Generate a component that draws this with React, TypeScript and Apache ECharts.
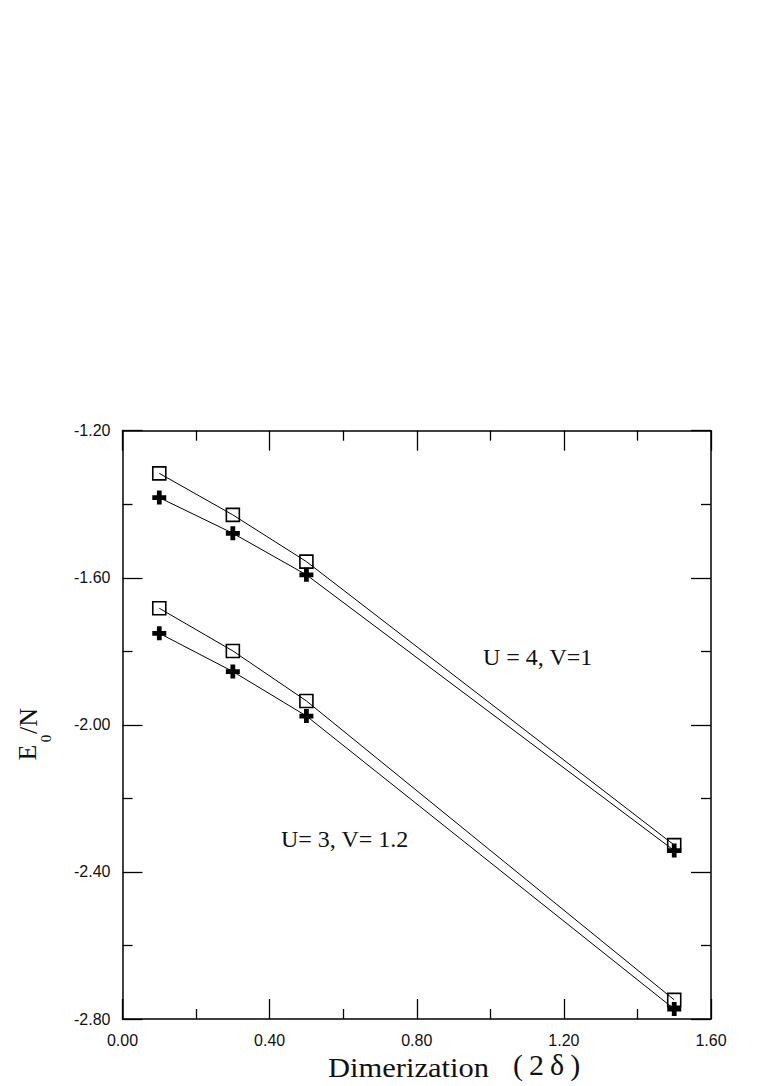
import React, { useEffect, useRef } from "react";
import * as echarts from "echarts";

const xValues = [0.1, 0.3, 0.5, 1.5];
const u4Squares = [-1.316, -1.429, -1.556, -2.327];
const u4Plus = [-1.382, -1.479, -1.592, -2.342];
const u3Squares = [-1.683, -1.799, -1.935, -2.748];
const u3Plus = [-1.751, -1.855, -1.976, -2.773];

const xTicks = { min: 0, max: 1.6, interval: 0.4 };
const yTicks = { min: -2.8, max: -1.2, interval: 0.4 };

const PLUS = "path://M3.3,0h3.4v3.3h3.3v3.4h-3.3v3.3h-3.4v-3.3h-3.3v-3.4h3.3z";

export default function App() {
  const ref = useRef<HTMLDivElement>(null);
  useEffect(() => {
    if (!ref.current) return;
    const chart = echarts.init(ref.current, null, { renderer: "svg" });
    const black = "#000";
    const tickLabel = {
      fontFamily: "Liberation Sans, Arial, sans-serif",
      fontSize: 16,
      color: "#111",
    };
    const axisCommon = (showLabel: boolean, margin: number) => ({
      type: "value" as const,
      axisLine: { show: true, onZero: false, lineStyle: { color: black, width: 1.5 } },
      axisTick: { show: true, inside: true, length: 20, lineStyle: { color: black, width: 1.3 } },
      minorTick: { show: true, splitNumber: 2, length: 10, lineStyle: { color: black, width: 1.3 } },
      splitLine: { show: false },
      minorSplitLine: { show: false },
      axisLabel: {
        show: showLabel,
        margin,
        formatter: (v: number) => v.toFixed(2),
        ...tickLabel,
      },
    });
    const lineSeries = (data: number[], symbol: string, plus: boolean) => ({
      type: "line" as const,
      data: xValues.map((x, i) => [x, data[i]]),
      symbol,
      symbolSize: plus ? 14 : 13,
      showSymbol: true,
      lineStyle: { color: black, width: 1 },
      itemStyle: plus
        ? { color: black, borderWidth: 0 }
        : { color: "rgba(0,0,0,0)", borderColor: black, borderWidth: 1.6 },
      z: plus ? 3 : 2,
      emphasis: { disabled: true },
    });
    const serif = "'Liberation Serif', 'Times New Roman', serif";
    const rotated = (text: string, x: number, y: number, size: number) => ({
      type: "text",
      x,
      y,
      rotation: Math.PI / 2,
      style: {
        text,
        font: `${size}px ${serif}`,
        fill: "#111",
        align: "center",
        verticalAlign: "middle",
        textAlign: "center",
        textVerticalAlign: "middle",
      },
    });
    chart.setOption({
      animation: false,
      backgroundColor: "#fff",
      grid: { left: 122.5, top: 430.7, right: 52, bottom: 67, containLabel: false },
      xAxis: [
        { ...axisCommon(true, 13), ...xTicks, position: "bottom" },
        { ...axisCommon(false, 8), ...xTicks, position: "top" },
      ],
      yAxis: [
        { ...axisCommon(true, 12), ...yTicks, position: "left" },
        { ...axisCommon(false, 8), ...yTicks, position: "right" },
      ],
      series: [
        lineSeries(u4Squares, "rect", false),
        lineSeries(u4Plus, PLUS, true),
        lineSeries(u3Squares, "rect", false),
        lineSeries(u3Plus, PLUS, true),
      ],
      graphic: [
        {
          type: "text",
          left: 483,
          top: 645,
          style: { text: "U = 4, V=1", font: `24px ${serif}`, fill: "#111" },
        },
        {
          type: "text",
          left: 281,
          top: 827,
          style: { text: "U= 3, V= 1.2", font: `24px ${serif}`, fill: "#111" },
        },
        {
          type: "text",
          x: 328,
          y: 1067,
          scaleX: 1.09,
          style: {
            text: "Dimerization",
            font: `28px ${serif}`,
            fill: "#111",
            align: "left",
            verticalAlign: "middle",
            textAlign: "left",
            textVerticalAlign: "middle",
          },
        },
        {
          type: "text",
          x: 513,
          y: 1064,
          style: {
            text: "(\u20092\u2009δ\u2009)",
            font: `30px ${serif}`,
            fill: "#111",
            align: "left",
            verticalAlign: "middle",
            textAlign: "left",
            textVerticalAlign: "middle",
          },
        },
        rotated("E", 27.5, 752.5, 26),
        rotated("0", 46, 738.5, 15),
        rotated("/N", 28, 721, 26),
      ],
    });
    return () => chart.dispose();
  }, []);
  return (
    <div
      ref={ref}
      style={{ position: "fixed", left: 0, top: 0, width: 763, height: 1086, background: "#fff" }}
    />
  );
}
